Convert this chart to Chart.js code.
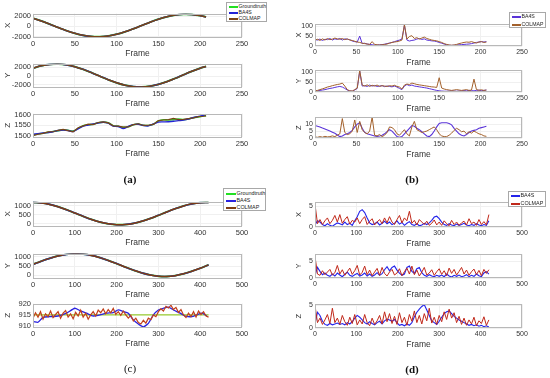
<!DOCTYPE html>
<html><head><meta charset="utf-8">
<script src="https://cdn.jsdelivr.net/npm/chart.js@4/dist/chart.umd.min.js"></script>
<style>
html,body{margin:0;padding:0;background:#fff;}
body{width:550px;height:378px;position:relative;overflow:hidden;font-family:"Liberation Sans",Arial,sans-serif;}
canvas{position:absolute;}
.lg{position:absolute;border:1px solid #a8a8a8;background:#fff;box-sizing:border-box;}
.lg .tx{position:absolute;white-space:nowrap;line-height:1;color:#222;transform:translateY(-50%);}
.lg .sw{position:absolute;height:2px;transform:translateY(-50%);}
.cap{position:absolute;font-family:"Liberation Serif","DejaVu Serif",serif;font-size:11px;font-weight:bold;color:#111;transform:translate(-50%,-50%);white-space:nowrap;}
</style></head><body>
<script>
// ---------------- DATA ----------------
// Panel (a) – sequence 1, trajectories (X, Y smooth; Z noisy)
const aFrames = [0,10,20,30,40,50,60,70,80,90,100,110,120,130,140,150,160,170,180,190,200,207];
const aX_gt = [1628,1072,438,-219,-842,-1376,-1772,-2003,-2041,-1888,-1552,-1069,-475,175,825,1419,1904,2238,2391,2353,2122,1859];
const aY_gt = [1766,2298,2620,2695,2520,2110,1505,766,-37,-823,-1516,-2048,-2370,-2445,-2270,-1860,-1255,-516,287,1073,1766,2160];
// BA4S and COLMAP read as coincident with the ground truth in X and Y
const aX_ba4s = aX_gt, aX_colmap = aX_gt, aY_ba4s = aY_gt, aY_colmap = aY_gt;
const aZFrames = [0,6,12,18,24,30,36,42,48,54,60,66,72,78,84,90,96,102,108,114,120,126,132,138,144,150,156,162,168,174,180,186,192,198,204,207];
const aZ_gt = [1503,1508,1512,1516,1520,1524,1528,1526,1522,1535,1548,1552,1555,1562,1565,1562,1548,1545,1540,1543,1552,1556,1550,1549,1555,1570,1576,1575,1577,1579,1577,1580,1586,1590,1594,1596];
const aZ_ba4s = [1507,1510,1513,1515,1519,1525,1527,1525,1520,1533,1546,1551,1556,1561,1564,1560,1546,1544,1534,1545,1553,1555,1549,1547,1556,1565,1566,1567,1569,1572,1575,1580,1587,1592,1597,1602];
const aZ_colmap = [1500,1507,1511,1518,1519,1526,1530,1524,1519,1538,1547,1555,1553,1563,1566,1561,1547,1546,1541,1542,1553,1557,1549,1550,1554,1572,1575,1577,1583,1577,1578,1582,1585,1591,1593,1595];

// Panel (b) – sequence 1, errors
const bFrames = [0,3,6,9,12,15,18,21,24,27,30,33,36,39,42,45,48,51,54,57,60,63,66,69,72,75,78,81,84,87,90,93,96,99,102,105,108,111,114,117,120,123,126,129,132,135,138,141,144,147,150,153,156,159,162,165,168,171,174,177,180,183,186,189,192,195,198,201,204,207];
const bX_ba4s = [33,30,35,28,34,32,38,30,36,33, 38,30,36,34,32,25,22,20,50,12, 14,10,8,6,5,5,6,7,9,12, 15,18,22,26,30,35,105,30,25,28, 30,35,38,33,36,30,28,26,25,22, 18,14,10,6,4,3,4,5,6,7, 8,9,10,12,15,18,20,22,20,22];
const bX_colmap = [30,34,28,36,30,38,32,35,40,36, 34,38,32,36,30,28,24,20,18,14, 12,10,8,22,8,6,5,6,8,10, 14,18,20,22,25,30,108,35,48,52, 38,42,35,40,45,38,34,30,28,26, 22,18,12,8,5,4,5,8,12,15, 18,20,19,22,18,15,20,22,18,20];
const bY_ba4s = [5,6,8,10,12,15,18,20,23,26, 28,25,18,10,5,4,10,18,105,30, 32,28,35,30,33,28,30,32,27,30, 28,26,30,25,18,12,30,38,32,35, 30,28,26,24,22,20,17,14,11,8, 6,5,4,4,5,6,5,4,5,6, 7,6,8,7,6,8,9,7,8,10];
const bY_colmap = [6,8,12,16,20,25,28,32,35,38, 40,45,30,12,6,5,12,20,108,35, 30,36,28,34,30,35,28,32,30,28, 32,30,34,28,25,15,35,40,38,45, 42,38,36,34,32,30,28,26,25,23, 72,20,15,12,10,8,10,12,10,8, 10,12,8,10,65,12,9,11,8,10];
const bZ_ba4s = [9,8.5,8,7.2,6.5,5.8,5,4.2,3.4,2.2, 1,1.5,2.5,3,4,5.5,8,10,11,7, 4,3,2.5,2,1.5,1.2,1.5,2,3,4.5, 6,5,3,1,0.5,1,3,5,7,9, 8.5,7,6,4.5,3,1.5,1,2.5,5,8, 10.5,11,11,11,10.5,9.5,7,5,3,2, 1.5,2.5,4,5,5.5,6,7,7.5,8,8.5];
const bZ_colmap = [0.8,0.5,1,0.6,1.2,0.8,1,1.5,1,2, 3,14,4,2.5,3,5,13,4,12,6, 4,3,5,15,2,1.5,2.5,1,2,4, 8,7.5,6,3,2,4,6,3,1.5,8, 12,6,5,4,4.5,5,6,7,8,6, 3,1.5,1,1,2,3.5,5.5,7,6,4.5, 5,3,4.5,3.5,5,4,3,2.5,1.5,1.2];

// Panel (c) – sequence 2, trajectories
const cFrames = [0,20,40,60,80,100,120,140,160,180,200,220,240,260,280,300,320,340,360,380,400,420];
const cX_gt = [1200,1171,1087,956,790,603,414,239,94,-8,-56,-48,17,133,289,470,661,843,1000,1118,1185,1197];
const cY_gt = [590,760,910,1040,1125,1160,1140,1070,950,800,630,450,280,130,20,-50,-65,-20,80,220,380,560];
const cX_ba4s = cX_gt, cX_colmap = cX_gt, cY_ba4s = cY_gt, cY_colmap = cY_gt;
const cZFramesGt = [0,420];
const cZ_gt = [915,915];
const cZFramesBa4s = [2,12,24,40,60,80,100,112,128,144,160,176,192,204,216,228,240,252,264,276,288,300,312,324,336,352,364,380,392,404,416];
const cZ_ba4s = [911.9,911.6,913.9,914.2,914.5,915.8,918.1,917,915.8,914.5,915,915.8,916.1,917.3,916.6,915.8,912.7,910.8,909.5,911.1,915,917.3,918.1,918.6,917.3,915.8,914.5,914.2,915,915.8,914.5];
const dFrames = [0,6,12,18,24,30,36,42,48,54,60,66,72,78,84,90,96,102,108,114,120,126,132,138,144,150,156,162,168,174,180,186,192,198,204,210,216,222,228,234,240,246,252,258,264,270,276,282,288,294,300,306,312,318,324,330,336,342,348,354,360,366,372,378,384,390,396,402,408,414,420];
const cZ_colmap = [913.5,916,914,916.5,913,915.5,914.2,916.8,913.8,915.2, 916.5,913.5,915.8,917,914,915.5,913.2,916.2,914.5,917.2, 914,915.8,913,915,916.5,914.5,917.2,916,917.8,915.5, 917.5,916,918,915.2,916.5,914.8,916.8,915,913.5,914.8, 912.2,913.5,911.5,910.8,912.5,911.2,913.5,912.8,915,914.2, 916.5,917.8,916.8,919,918.2,919.5,917.5,918.5,916.2,917.5, 915,913.8,915.8,914.2,916.5,914,916.8,915.2,916.5,914.5, 914];

// Panel (d) – sequence 2, errors
const dX_ba4s = [0.5,1.5,1.2,0.6,0.3,0.8,0.4,0.2,0.6,1.0, 0.8,0.5,1.2,0.6,0.9,0.4,1.5,2.5,3.8,4.2, 3.5,2.2,1.0,0.6,0.8,1.2,0.5,0.9,1.4,0.8, 1.2,0.6,0.9,1.5,0.7,1.1,0.4,0.9,1.3,0.6, 0.4,0.8,0.3,0.5,0.9,0.6,1.0,1.6,2.4,2.6, 2.0,1.2,0.6,0.4,0.8,0.5,0.3,0.7,0.4,0.6, 0.9,0.5,0.3,0.6,0.4,0.8,0.5,0.3,0.6,0.4, 1.5];
const dX_colmap = [5.5,0.8,1.8,0.6,1.5,2.2,0.8,1.6,2.8,1.2, 3.0,0.9,1.8,2.5,0.7,1.6,1.2,2.2,0.8,1.8, 2.5,0.6,1.4,2.0,0.5,1.2,1.8,0.8,2.2,1.0, 2.5,1.2,0.6,1.8,2.8,1.0,2.2,1.5,3.8,0.9, 1.6,0.5,1.8,1.2,0.6,1.4,0.4,0.9,1.7,0.5, 1.2,0.4,1.5,0.8,0.3,1.6,0.6,1.2,0.4,1.0, 1.4,0.5,2.0,0.8,1.2,0.4,1.8,0.6,1.3,0.5, 3.0];
const dY_ba4s = [0.8,3.2,2.0,1.0,1.5,0.8,0.5,1.2,0.6,1.5, 0.9,0.4,1.2,1.8,0.8,0.5,1.0,1.4,0.6,0.9, 1.5,0.6,1.2,0.5,0.9,1.6,0.8,1.3,2.5,3.4, 2.2,3.2,3.6,2.4,1.5,0.8,1.2,3.2,3.6,2.0, 1.4,2.8,3.2,1.6,0.8,0.5,1.0,0.6,0.4,0.8, 0.5,0.9,0.4,1.2,0.6,0.3,0.8,0.5,0.9,0.4, 0.6,1.0,0.4,0.8,0.5,1.2,0.7,0.4,1.5,1.9, 1.2];
const dY_colmap = [6.5,1.2,0.8,2.2,1.0,1.8,2.6,0.9,1.6,3.8, 1.2,2.5,0.8,1.9,3.0,1.1,2.2,3.8,0.9,1.7, 3.6,1.0,2.4,0.7,1.8,2.9,0.8,3.2,1.4,0.6, 1.8,2.6,0.9,1.5,2.8,0.7,1.9,3.0,1.2,3.6, 1.0,2.4,0.6,1.8,3.2,0.9,1.5,2.5,0.8,1.9, 2.8,1.1,2.2,0.7,3.0,1.4,2.6,0.9,2.0,3.2, 1.2,2.4,0.8,1.9,2.7,1.0,2.3,0.7,2.6,1.4, 2.5];
const dZ_ba4s = [1.0,3.5,2.8,1.5,0.8,0.6,1.0,0.7,0.9,1.1, 0.8,1.0,0.7,1.2,0.9,1.4,2.2,2.8,2.4,1.8, 1.2,0.9,1.4,1.0,0.7,1.2,1.5,0.9,1.6,2.0, 1.8,1.5,1.9,1.2,0.6,0.8,0.5,0.9,0.6,1.2, 2.5,3.5,4.2,4.8,5.2,4.0,2.8,1.6,1.2,0.8, 1.5,2.4,3.2,3.6,3.8,3.2,2.6,2.2,1.8,1.5, 1.2,0.9,0.6,0.8,0.5,0.7,0.4,0.6,0.3,0.5, 0.2];
const dZ_colmap = [5.0,1.2,2.2,0.8,1.8,3.0,1.0,4.4,1.2,2.2, 0.8,2.8,1.4,0.6,2.4,1.0,3.0,0.7,1.8,0.9, 3.0,1.2,0.5,2.2,0.8,1.6,2.8,0.9,3.6,1.4, 3.2,1.0,2.6,0.8,3.4,1.2,2.4,0.6,3.0,1.5, 3.8,1.2,2.8,0.9,3.2,1.6,4.4,1.1,2.4,0.8, 2.8,1.4,3.6,1.9,4.2,2.2,3.4,1.2,2.6,0.8, 2.2,0.6,1.8,0.9,2.4,0.5,1.6,1.0,2.5,0.6, 1.8];

// Tick labels
const ticks250 = [0,50,100,150,200,250];
const ticks500 = [0,100,200,300,400,500];
const seriesNames3 = ['Groundtruth','BA4S','COLMAP'];
const seriesNames2 = ['BA4S','COLMAP'];
const captions = ['(a)','(b)','(c)','(d)'];

// ---------------- DRAWING ----------------
const FF = '"Liberation Sans", Arial, Helvetica, sans-serif';
const GREEN = '#2fd02f';
const boxPlugin = {
  id:'box',
  afterDraw(chart){
    const a = chart.chartArea, c = chart.ctx;
    c.save(); c.strokeStyle = '#b8b8b8'; c.lineWidth = 1;
    c.strokeRect(Math.round(a.left)+0.5, Math.round(a.top)+0.5, Math.round(a.right-a.left)-1, Math.round(a.bottom-a.top)-1);
    c.restore();
  }
};
function pts(xs, ys){ return ys.map((y,i)=>({x:xs[i], y:y})); }
function plot(o){
  const YW = o.yw, PT = 6, PR = 12, XH = 22;
  const W = (o.R-o.L)+YW+PR, H = (o.B-o.T)+PT+XH;
  const cv = document.createElement('canvas');
  cv.width = W; cv.height = H;
  cv.style.left = (o.L-YW)+'px'; cv.style.top = (o.T-PT)+'px';
  cv.style.width = W+'px'; cv.style.height = H+'px';
  document.body.appendChild(cv);
  const n = o.ds.length;
  new Chart(cv, {
    type:'line',
    // later series are drawn on top (lower "order" = drawn last)
    data:{datasets:o.ds.map((d,i)=>({label:d.n, order:n-i, data:pts(d.x,d.y), borderColor:d.c, borderWidth:d.w, pointRadius:0, tension:d.t||0, fill:false}))},
    options:{
      responsive:false, maintainAspectRatio:false, animation:false, devicePixelRatio:1, events:[],
      layout:{padding:{left:0,top:PT,right:PR,bottom:0}},
      plugins:{legend:{display:false}, tooltip:{enabled:false}},
      scales:{
        x:{type:'linear', min:0, max:o.xMax,
          afterBuildTicks:s=>{s.ticks = o.xt.map(v=>({value:v}));},
          afterFit:s=>{s.height = XH;},
          ticks:{autoSkip:false, maxRotation:0, padding:2, color:'#333', font:{family:FF,size:o.fs}, callback:v=>String(v)},
          grid:{color:'#f0f0f0', drawTicks:false}, border:{display:false},
          title:{display:true, text:'Frame', color:'#333', font:{family:FF,size:8.5}, padding:{top:0,bottom:0}}},
        y:{type:'linear', min:o.yMin, max:o.yMax,
          afterBuildTicks:s=>{s.ticks = o.yTicks.map(v=>({value:v}));},
          afterFit:s=>{s.width = YW;},
          ticks:{autoSkip:false, padding:2, color:'#333', font:{family:FF,size:o.fs}, callback:v=>String(v)},
          grid:{color:'#f0f0f0', drawTicks:false}, border:{display:false},
          title:{display:true, text:o.yt, color:'#333', font:{family:FF,size:o.tf||8}, padding:{top:o.tp,bottom:0}}}
      }
    },
    plugins:[boxPlugin]
  });
}
function legend(x,y,w,h,items,fs,sw){
  const d = document.createElement('div'); d.className = 'lg';
  Object.assign(d.style,{left:x+'px',top:y+'px',width:w+'px',height:h+'px'});
  items.forEach(it=>{
    const s = document.createElement('div'); s.className='sw';
    Object.assign(s.style,{left:'1.5px',top:it.y+'px',width:sw+'px',background:it.c});
    const t = document.createElement('div'); t.className='tx';
    Object.assign(t.style,{left:(sw+2.5)+'px',top:it.y+'px',fontSize:fs+'px'});
    t.textContent = it.n;
    d.appendChild(s); d.appendChild(t);
  });
  document.body.appendChild(d);
}
function caption(txt,x,y,bold){
  const c = document.createElement('div'); c.className='cap'; c.textContent = txt;
  Object.assign(c.style,{left:x+'px',top:y+'px',fontWeight:bold?'bold':'normal'});
  document.body.appendChild(c);
}

// colours
const aBA='#2323d6', aCO='#7a4416';
const bBA='#5a34d8', bCO='#a3612c';
const cBA='#2a22e0', cCO='#7f3c12', cCOz='#c2401c';
const dBA='#2424ea', dCO='#c0281a';

// (a)
plot({L:33,R:242,T:13,B:37,yw:30,tp:0,fs:7.5,xMax:250,xt:ticks250,yMin:-2100,yMax:2550,yTicks:[-2000,0,2000],yt:'X',
  ds:[{n:seriesNames3[0],x:aFrames,y:aX_gt,c:GREEN,w:1.8,t:0.4},{n:seriesNames3[1],x:aFrames,y:aX_ba4s,c:aBA,w:1.6,t:0.4},{n:seriesNames3[2],x:aFrames,y:aX_colmap,c:aCO,w:1.5,t:0.4}]});
plot({L:33,R:242,T:63,B:87,yw:30,tp:0,fs:7.5,xMax:250,xt:ticks250,yMin:-2450,yMax:2820,yTicks:[-2000,0,2000],yt:'Y',
  ds:[{n:seriesNames3[0],x:aFrames,y:aY_gt,c:GREEN,w:1.8,t:0.4},{n:seriesNames3[1],x:aFrames,y:aY_ba4s,c:aBA,w:1.6,t:0.4},{n:seriesNames3[2],x:aFrames,y:aY_colmap,c:aCO,w:1.5,t:0.4}]});
plot({L:33,R:242,T:113,B:137,yw:30,tp:0,fs:7.5,xMax:250,xt:ticks250,yMin:1494,yMax:1606,yTicks:[1500,1550,1600],yt:'Z',
  ds:[{n:seriesNames3[0],x:aZFrames,y:aZ_gt,c:GREEN,w:1.6,t:0.3},{n:seriesNames3[1],x:aZFrames,y:aZ_ba4s,c:aBA,w:1.4,t:0.3},{n:seriesNames3[2],x:aZFrames,y:aZ_colmap,c:aCO,w:1.2,t:0}]});
// (b)
plot({L:315,R:522,T:24,B:46,yw:21,tp:0.5,tf:7.5,fs:7,xMax:250,xt:ticks250,yMin:0,yMax:110,yTicks:[0,50,100],yt:'X',
  ds:[{n:seriesNames2[0],x:bFrames,y:bX_ba4s,c:bBA,w:1},{n:seriesNames2[1],x:bFrames,y:bX_colmap,c:bCO,w:1}]});
plot({L:315,R:522,T:70,B:92,yw:21,tp:0.5,tf:7.5,fs:7,xMax:250,xt:ticks250,yMin:0,yMax:110,yTicks:[0,50,100],yt:'Y',
  ds:[{n:seriesNames2[0],x:bFrames,y:bY_ba4s,c:bBA,w:1},{n:seriesNames2[1],x:bFrames,y:bY_colmap,c:bCO,w:1}]});
plot({L:315,R:522,T:117,B:138,yw:21,tp:0.5,tf:7.5,fs:7,xMax:250,xt:ticks250,yMin:0,yMax:15,yTicks:[0,5,10],yt:'Z',
  ds:[{n:seriesNames2[0],x:bFrames,y:bZ_ba4s,c:bBA,w:1.1},{n:seriesNames2[1],x:bFrames,y:bZ_colmap,c:bCO,w:1}]});
// (c)
plot({L:33,R:242,T:201,B:226,yw:30,tp:0,fs:7.5,xMax:500,xt:ticks500,yMin:-130,yMax:1250,yTicks:[0,500,1000],yt:'X',
  ds:[{n:seriesNames3[0],x:cFrames,y:cX_gt,c:GREEN,w:1.8,t:0.4},{n:seriesNames3[1],x:cFrames,y:cX_ba4s,c:cBA,w:1.6,t:0.4},{n:seriesNames3[2],x:cFrames,y:cX_colmap,c:cCO,w:1.5,t:0.4}]});
plot({L:33,R:242,T:253,B:278,yw:30,tp:0,fs:7.5,xMax:500,xt:ticks500,yMin:-145,yMax:1172,yTicks:[0,500,1000],yt:'Y',
  ds:[{n:seriesNames3[0],x:cFrames,y:cY_gt,c:GREEN,w:1.8,t:0.4},{n:seriesNames3[1],x:cFrames,y:cY_ba4s,c:cBA,w:1.6,t:0.4},{n:seriesNames3[2],x:cFrames,y:cY_colmap,c:cCO,w:1.5,t:0.4}]});
plot({L:33,R:242,T:303,B:327,yw:30,tp:0,fs:7.5,xMax:500,xt:ticks500,yMin:909.4,yMax:920.3,yTicks:[910,915,920],yt:'Z',
  ds:[{n:seriesNames3[0],x:cZFramesGt,y:cZ_gt,c:'#9acd32',w:1.2},{n:seriesNames3[1],x:cZFramesBa4s,y:cZ_ba4s,c:cBA,w:1.3,t:0.2},{n:seriesNames3[2],x:dFrames,y:cZ_colmap,c:cCOz,w:1.2}]});
// (d)
plot({L:315,R:522,T:202,B:227,yw:21,tp:0.5,tf:7.5,fs:7,xMax:500,xt:ticks500,yMin:0,yMax:6,yTicks:[0,5],yt:'X',
  ds:[{n:seriesNames2[0],x:dFrames,y:dX_ba4s,c:dBA,w:1.1},{n:seriesNames2[1],x:dFrames,y:dX_colmap,c:dCO,w:1}]});
plot({L:315,R:522,T:254,B:278,yw:21,tp:0.5,tf:7.5,fs:7,xMax:500,xt:ticks500,yMin:0,yMax:7.2,yTicks:[0,5],yt:'Y',
  ds:[{n:seriesNames2[0],x:dFrames,y:dY_ba4s,c:dBA,w:1.1},{n:seriesNames2[1],x:dFrames,y:dY_colmap,c:dCO,w:1}]});
plot({L:315,R:522,T:304,B:328,yw:21,tp:0.5,tf:7.5,fs:7,xMax:500,xt:ticks500,yMin:0,yMax:5.3,yTicks:[0,5],yt:'Z',
  ds:[{n:seriesNames2[0],x:dFrames,y:dZ_ba4s,c:dBA,w:1.1},{n:seriesNames2[1],x:dFrames,y:dZ_colmap,c:dCO,w:1}]});

// legends
legend(226,2,41,20,[{n:seriesNames3[0],c:'#22e022',y:3.7},{n:seriesNames3[1],c:aBA,y:9.7},{n:seriesNames3[2],c:aCO,y:15.7}],5.2,9);
legend(509,12,37,16,[{n:seriesNames2[0],c:bBA,y:4},{n:seriesNames2[1],c:bCO,y:11.5}],5.2,9);
legend(223,188,43,23,[{n:seriesNames3[0],c:'#22e022',y:5},{n:seriesNames3[1],c:cBA,y:12},{n:seriesNames3[2],c:cCO,y:19}],5.4,10);
legend(508,191,38,16,[{n:seriesNames2[0],c:dBA,y:4},{n:seriesNames2[1],c:dCO,y:11.5}],5.4,9);

// captions
caption(captions[0],130,179,true);
caption(captions[1],412,179,true);
caption(captions[2],130,368,false);
caption(captions[3],412,369,true);
</script>
</body></html>
